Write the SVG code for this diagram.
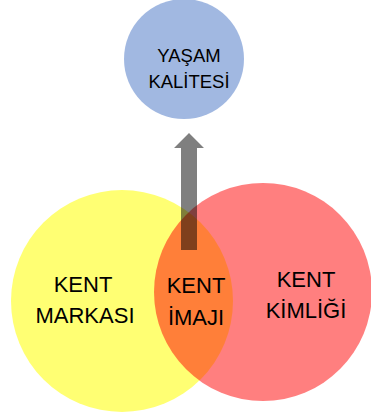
<svg xmlns="http://www.w3.org/2000/svg" width="371" height="419" viewBox="0 0 371 419">
<style>
.lbl{font-family:"Liberation Sans",Arial,sans-serif;fill:#000;text-anchor:middle}
.big{font-size:22px}
.small{font-size:18.5px}
</style>
<rect width="371" height="419" fill="#fff"/>
<g id="yasam-kalitesi">
<circle cx="184" cy="59" r="60" fill="#4472C4" fill-opacity="0.5"/>
<text class="lbl small" x="189" y="62">YAŞAM</text>
<text class="lbl small" x="189" y="88">KALİTESİ</text>
</g>
<g id="kent-markasi">
<circle cx="122" cy="301" r="111" fill="#FFFF00" fill-opacity="0.55"/>
</g>
<g id="kent-kimligi">
<circle cx="263" cy="292" r="109" fill="#FF0000" fill-opacity="0.5"/>
</g>
<g id="connectors">
<path d="M181,250 L181,148 L174,148 L189,133 L204,148 L197,148 L197,250 Z" fill="#000" fill-opacity="0.5"/>
</g>
<g id="labels">
<text class="lbl big" x="83" y="292">KENT</text>
<text class="lbl big" x="85" y="323">MARKASI</text>
<text class="lbl big" x="196" y="293">KENT</text>
<text class="lbl big" x="196" y="325">İMAJI</text>
<text class="lbl big" x="306" y="287">KENT</text>
<text class="lbl big" x="306" y="318">KİMLİĞİ</text>
</g>
</svg>
